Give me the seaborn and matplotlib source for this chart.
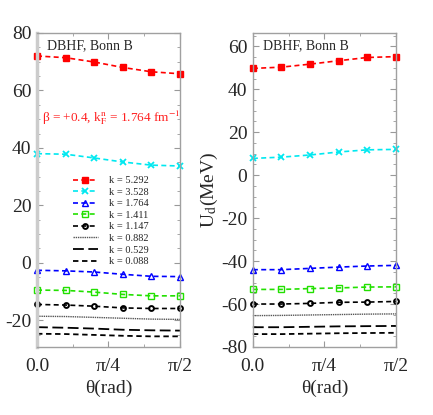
import numpy as np
import pandas as pd
import matplotlib
matplotlib.use("Agg")
import matplotlib.pyplot as plt
import seaborn as sns

# theta in units of pi
theta_pi = [0.0, 0.1, 0.2, 0.3, 0.4, 0.5]

k_labels = ["k = 5.292", "k = 3.528", "k = 1.764", "k = 1.411",
            "k = 1.147", "k = 0.882", "k = 0.529", "k = 0.088"]

# left panel
left_k5292 = [72.0, 71.4, 69.9, 68.0, 66.5, 65.8]
left_k3528 = [38.0, 37.8, 36.5, 35.1, 34.0, 33.7]
left_k1764 = [-2.6, -2.8, -3.2, -4.0, -4.7, -4.8]
left_k1411 = [-9.5, -9.6, -10.2, -11.0, -11.5, -11.5]
left_k1147 = [-14.5, -14.7, -15.1, -15.7, -15.9, -15.9]
left_k0882 = [-18.6, -18.7, -19.0, -19.3, -19.6, -19.7]
left_k0529 = [-22.4, -22.6, -22.9, -23.3, -23.5, -23.6]
left_k0088 = [-24.7, -24.8, -25.1, -25.4, -25.6, -25.6]

# right panel
right_k5292 = [49.7, 50.3, 51.7, 53.3, 54.8, 55.2]
right_k3528 = [7.8, 8.4, 9.4, 10.8, 11.8, 12.0]
right_k1764 = [-44.0, -44.0, -43.4, -42.8, -42.3, -42.0]
right_k1411 = [-53.2, -53.2, -52.8, -52.5, -52.1, -52.0]
right_k1147 = [-60.0, -60.0, -59.7, -59.2, -59.1, -58.8]
right_k0882 = [-65.4, -65.3, -65.1, -64.9, -64.7, -64.6]
right_k0529 = [-70.8, -70.8, -70.6, -70.4, -70.3, -70.2]
right_k0088 = [-74.0, -74.0, -73.8, -73.6, -73.5, -73.4]

left_vals = [left_k5292, left_k3528, left_k1764, left_k1411,
             left_k1147, left_k0882, left_k0529, left_k0088]
right_vals = [right_k5292, right_k3528, right_k1764, right_k1411,
              right_k1147, right_k0882, right_k0529, right_k0088]

styles = [
    dict(color="#ff0000", marker="s", ms=4, mfc="#ff0000", mec="#ff0000", mew=1.0, ls=(0, (3, 2))),
    dict(color="#00e8f0", marker="x", ms=4.5, mec="#00e8f0", mew=1.3, ls=(0, (3, 2))),
    dict(color="#0000ff", marker="^", ms=4.5, mfc="none", mec="#0000ff", mew=1.0, ls=(0, (3, 2))),
    dict(color="#22e000", marker="s", ms=4.5, mfc="none", mec="#22e000", mew=1.0, ls=(0, (3, 2))),
    dict(color="black", marker="o", ms=3.5, mfc="none", mec="black", mew=1.4, ls=(0, (3, 2))),
    dict(color="#555555", marker=None, ls=(0, (1, 0.6)), lw=1.0),
    dict(color="black", marker=None, ls=(0, (6, 2.5)), lw=1.3),
    dict(color="black", marker=None, ls=(0, (3, 2)), lw=1.3),
]

sns.set_style("ticks")
plt.rcParams["font.family"] = ["Liberation Serif", "DejaVu Serif"]
plt.rcParams["mathtext.fontset"] = "stix"
plt.rcParams["axes.unicode_minus"] = False

fig = plt.figure(figsize=(4.33, 4.15), dpi=100)
ax1 = fig.add_axes([0.0855, 0.1639, 0.330, 0.7566])
ax2 = fig.add_axes([0.584, 0.1639, 0.3305, 0.7566])

x = np.array(theta_pi) * np.pi

for ax, vals in [(ax1, left_vals), (ax2, right_vals)]:
    for lab, v, st in zip(k_labels, vals, styles):
        st = dict(st)
        ls = st.pop("ls")
        lw = st.pop("lw", 1.2)
        sns.lineplot(x=x, y=v, ax=ax, label=lab, linestyle=ls, linewidth=lw,
                     clip_on=False, **st)

    ax.set_xlim(0, np.pi / 2)
    ax.set_xticks([0, np.pi / 4, np.pi / 2])
    ax.set_xticklabels(["0.0", "π/4", "π/2"])
    ax.set_xticks([np.pi / 8, 3 * np.pi / 8], minor=True)
    ax.set_xlabel("θ(rad)", fontsize=14, labelpad=3)
    ax.tick_params(which="both", direction="in", top=True, right=True,
                   color="#999999", labelsize=14)
    ax.tick_params(which="major", length=4.5)
    ax.tick_params(axis="x", which="major", pad=8)
    ax.tick_params(axis="y", which="major", pad=4)
    ax.tick_params(which="minor", length=2.5)
    for s in ax.spines.values():
        s.set_color("#a0a0a0")
        s.set_linewidth(1.0)
    ax.text(0.07, 0.96, "DBHF, Bonn B", transform=ax.transAxes,
            fontsize=10, va="center", ha="left")
    if ax is ax2:
        ax.get_legend().remove()

ax1.set_ylim(-29.3, 80)
ax1.set_yticks([-20, 0, 20, 40, 60, 80])
ax1.set_yticks(np.arange(-25, 80, 5), minor=True)
ax1.spines["left"].set_linewidth(2.5)
ax1.spines["left"].set_color("#cccccc")

ax2.set_ylim(-80, 66.2)
ax2.set_yticks([-80, -60, -40, -20, 0, 20, 40, 60])
ax2.set_yticks(np.arange(-75, 66, 5), minor=True)
ax2.set_ylabel("U$_\\mathrm{d}$(MeV)", fontsize=14, labelpad=1)

ax1.text(0.035, 0.729, "β = +0.4, k$_\\mathrm{F}^\\mathrm{n}$ = 1.764 fm$^{-1}$",
         transform=ax1.transAxes, fontsize=9.5, color="#ff2020",
         va="center", ha="left")

ax1.legend(loc="upper left", bbox_to_anchor=(0.25, 0.545), frameon=False,
           fontsize=7.5, handlelength=2.4, handletextpad=1.1,
           labelspacing=0.22, borderpad=0, borderaxespad=0, numpoints=1)

fig.savefig("out.png", dpi=100)
